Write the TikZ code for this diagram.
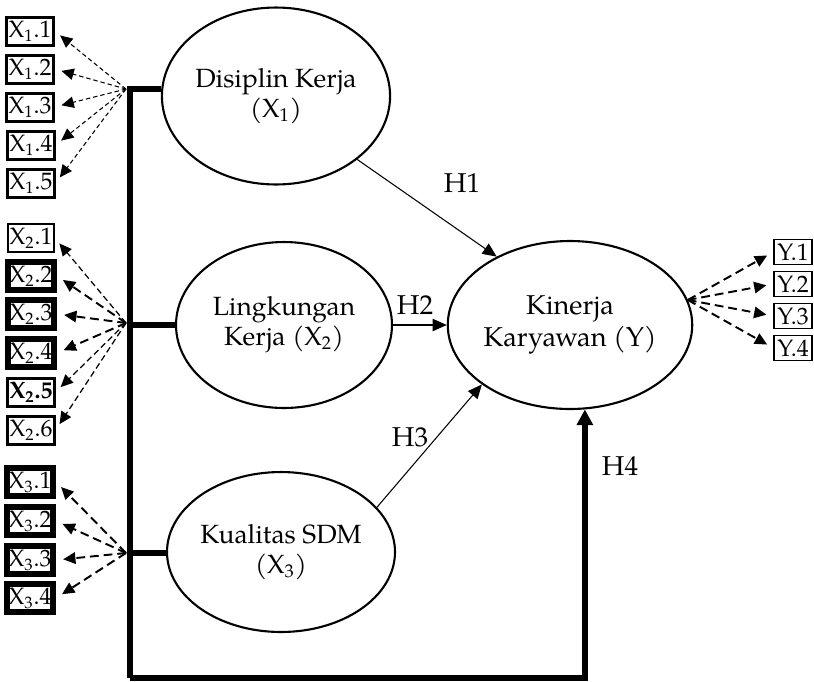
\documentclass[tikz,border=0pt]{standalone}
\usepackage{fontspec}
\setmainfont{TeX Gyre Pagella}
\usepackage{tikz}
\usetikzlibrary{arrows.meta,shapes.geometric}

\begin{document}
\begin{tikzpicture}[x=0.02cm,y=-0.02cm,
     latent/.style={ellipse,draw,line width=1.2pt,inner sep=0pt,align=center,
      font=\fontsize{15}{17}\selectfont},
     indbox/.style={draw,inner sep=1pt,minimum width=0.84cm,minimum height=0.56cm,
      font=\fontsize{13.5}{15}\selectfont},
     boxthin/.style={indbox,line width=0.8pt},
     boxmid/.style={indbox,line width=1.7pt},
     boxheavy/.style={indbox,line width=3.4pt},
     hyp/.style={-{Triangle[length=8pt,width=7pt]},line width=0.6pt},
     dfine/.style={-{Triangle[length=7pt,width=6.5pt]},line width=0.6pt,
      dash pattern=on 2.5pt off 1.7pt,shorten >=4pt},
     dmid/.style={-{Triangle[length=7pt,width=6.5pt]},line width=0.7pt,
      dash pattern=on 3.5pt off 2pt,shorten >=4pt},
     dbold/.style={-{Triangle[length=7pt,width=6.5pt]},line width=1.1pt,
      dash pattern=on 5pt off 2.8pt,shorten >=4pt},
     bus/.style={line width=3.8pt,line join=miter},
     hlab/.style={font=\fontsize{15.5}{17}\selectfont}]
     \useasboundingbox (0,0) rectangle (814,681);

     \node[latent,minimum width=4.56cm,minimum height=3.54cm] (x1) at (276,96)
      {Disiplin Kerja\\(X\textsubscript{1})};
     \node[latent,minimum width=4.32cm,minimum height=3.32cm] (x2) at (284,325)
      {Lingkungan\\Kerja (X\textsubscript{2})};
     \node[latent,minimum width=4.28cm,minimum height=3.2cm] (x3) at (281,552)
      {Kualitas SDM\\(X\textsubscript{3})};
     \node[latent,minimum width=4.88cm,minimum height=3.36cm,
      font=\fontsize{15.5}{18}\selectfont] (y) at (570,325) {Kinerja\\Karyawan (Y)};

     \coordinate (j1) at (130,89);
     \coordinate (j2) at (130,325);
     \coordinate (j3) at (130,553);
     \coordinate (jb) at (130,678);
     \coordinate (s1) at (126,89);
     \coordinate (s2) at (126,323);
     \coordinate (s3) at (126,553);
     \coordinate (sy) at (y.12);

     \draw[bus] (j1 -| x1.west) -- (j1) -- (jb);
     \draw[bus] (j2) -- (j2 -| x2.west);
     \draw[bus] (j3) -- (j3 -| x3.west);
     \draw[bus,-{Triangle[length=9pt,width=9pt]}] (jb) -| (y.-80);

     \draw[hyp] (x1.-38) -- (y.137);
     \draw[hyp] (x2) -- (y);
     \draw[hyp] (x3.25) -- (y.214);

     \node[hlab] (h1) at (462,183) {H1};
     \node[hlab] (h2) at (415,305) {H2};
     \node[hlab] (h3) at (410,437) {H3};
     \node[hlab] (h4) at (620,466) {H4};

     \node[boxmid] (x11) at (30,31) {X\textsubscript{1}.1};
     \node[boxmid] (x12) at (30,69) {X\textsubscript{1}.2};
     \node[boxmid] (x13) at (30,107) {X\textsubscript{1}.3};
     \node[boxmid] (x14) at (31,145) {X\textsubscript{1}.4};
     \node[boxmid] (x15) at (31,183) {X\textsubscript{1}.5};
     \draw[dfine] (s1) -- (x11.east);
     \draw[dfine] (s1) -- (x12.east);
     \draw[dfine] (s1) -- (x13.east);
     \draw[dfine] (s1) -- (x14.east);
     \draw[dfine] (s1) -- (x15.east);

     \node[boxthin] (x21) at (31,238) {X\textsubscript{2}.1};
     \node[boxheavy] (x22) at (31,276) {X\textsubscript{2}.2};
     \node[boxheavy] (x23) at (31,314) {X\textsubscript{2}.3};
     \node[boxheavy] (x24) at (31,353) {X\textsubscript{2}.4};
     \node[boxmid] (x25) at (31,392) {\textbf{X\textsubscript{2}.5}};
     \node[boxmid] (x26) at (31,430) {X\textsubscript{2}.6};
     \draw[dmid] (s2) -- (x21.east);
     \draw[dbold] (s2) -- (x22.east);
     \draw[dbold] (s2) -- (x23.east);
     \draw[dbold] (s2) -- (x24.east);
     \draw[dmid] (s2) -- (x25.east);
     \draw[dmid] (s2) -- (x26.east);

     \node[boxheavy] (x31) at (30,482) {X\textsubscript{3}.1};
     \node[boxheavy] (x32) at (30,521) {X\textsubscript{3}.2};
     \node[boxheavy] (x33) at (30,560) {X\textsubscript{3}.3};
     \node[boxheavy] (x34) at (30,598) {X\textsubscript{3}.4};
     \draw[dbold] (s3) -- (x31.east);
     \draw[dbold] (s3) -- (x32.east);
     \draw[dbold] (s3) -- (x33.east);
     \draw[dbold] (s3) -- (x34.east);

     \node[boxthin,minimum width=0.76cm,minimum height=0.5cm] (y1) at (793,252) {Y.1};
     \node[boxthin,minimum width=0.76cm,minimum height=0.5cm] (y2) at (793,284) {Y.2};
     \node[boxthin,minimum width=0.76cm,minimum height=0.5cm] (y3) at (793,316) {Y.3};
     \node[boxthin,minimum width=0.76cm,minimum height=0.5cm] (y4) at (793,348) {Y.4};
     \draw[dbold] (sy) -- (y1.west);
     \draw[dbold] (sy) -- (y2.west);
     \draw[dbold] (sy) -- (y3.west);
     \draw[dbold] (sy) -- (y4.west);
\end{tikzpicture}
\end{document}
